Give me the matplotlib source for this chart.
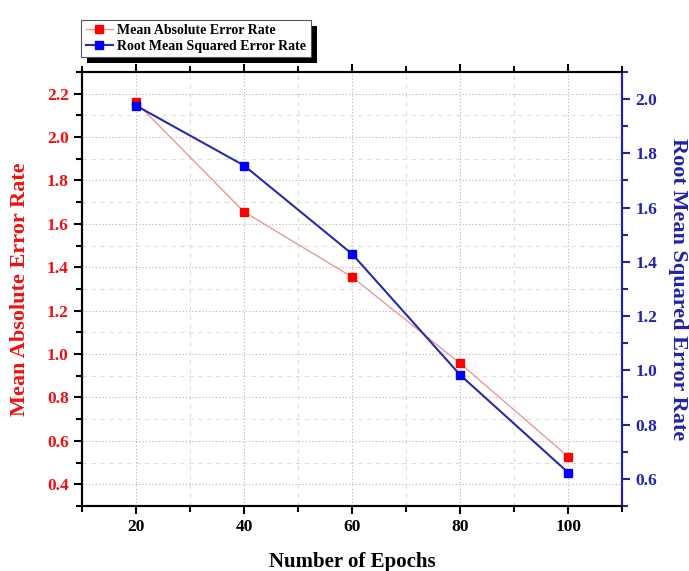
import numpy as np
import matplotlib
matplotlib.use("Agg")
from matplotlib import pyplot as plt
from matplotlib.patches import Rectangle
from matplotlib.ticker import MultipleLocator

plt.rcParams['font.family'] = ['Liberation Serif', 'DejaVu Serif']
plt.rcParams['font.weight'] = 'bold'

epochs = [20, 40, 60, 80, 100]
mae = [2.16, 1.655, 1.355, 0.957, 0.527]
rmse = [1.976, 1.755, 1.429, 0.983, 0.623]

fig = plt.figure(figsize=(6.89, 5.71), dpi=100)
ax = fig.add_axes([0.119, 0.114, 0.784, 0.760])
ax2 = ax.twinx()

l1, = ax.plot(epochs, mae, color="#e89a9a", lw=1.0, marker="s", ms=6,
              mfc="#ff0000", mec="#ff0000", label="Mean Absolute Error Rate", zorder=3)
l2, = ax2.plot(epochs, rmse, color="#2a2aa8", lw=1.5, marker="s", ms=6,
               mfc="#0000ff", mec="#0000ff", label="Root Mean Squared Error Rate", zorder=3)

ax.set_xlim(10, 110)
ax.set_xticks(epochs)
ax.xaxis.set_minor_locator(MultipleLocator(10))
ax.yaxis.set_major_locator(MultipleLocator(0.2))
ax.yaxis.set_minor_locator(MultipleLocator(0.1))
ax2.yaxis.set_major_locator(MultipleLocator(0.2))
ax2.yaxis.set_minor_locator(MultipleLocator(0.1))
ax.set_ylim(0.3, 2.3)
ax2.set_ylim(0.5, 2.1)
ax.yaxis.set_major_formatter("{x:.1f}")
ax2.yaxis.set_major_formatter("{x:.1f}")

# grid
ax.grid(True, which="major", ls=(0, (1, 2)), color="#d0a8b0", lw=0.8)
ax.grid(True, which="minor", ls=(0, (4, 4)), color="#cfe8cf", lw=0.8)

ax.tick_params(axis="x", which="both", direction="out", top=True, labelsize=12.5, width=1.5)
ax.tick_params(axis="x", which="major", length=6)
ax.tick_params(axis="x", which="minor", length=4)
ax.tick_params(axis="y", which="major", length=6, width=1.5, labelsize=12.5, labelcolor="#ee1111")
ax.tick_params(axis="y", which="minor", length=4, width=1.5)
ax2.tick_params(axis="y", which="major", length=6, width=1.5, labelsize=12.5,
                labelcolor="#2222aa", color="#2222aa")
ax2.tick_params(axis="y", which="minor", length=4, width=1.5, color="#2222aa")

for s in ax.spines.values():
    s.set_linewidth(1.5)
for s in ax2.spines.values():
    s.set_linewidth(1.5)
ax2.spines["right"].set_color("#2222aa")

ax.set_xlabel("Number of Epochs", fontsize=15, fontweight="bold", labelpad=12)
ax.set_ylabel("Mean Absolute Error Rate", fontsize=16, fontweight="bold", color="#ee1111", labelpad=12)
ax2.set_ylabel("Root Mean Squared Error Rate", fontsize=16, fontweight="bold", color="#2222aa",
               rotation=270, labelpad=22)

leg = fig.legend(handles=[l1, l2], loc="upper left", bbox_to_anchor=(0.108, 0.978),
                 fontsize=10, frameon=True, fancybox=False, framealpha=1,
                 edgecolor="#555555", borderpad=0.3, handlelength=2.0,
                 handletextpad=0.3, labelspacing=0.25)
leg.get_frame().set_linewidth(0.8)

fig.canvas.draw()
bb = leg.get_window_extent().transformed(fig.transFigure.inverted())
dx, dy = 6 / 689, 6 / 571
fig.patches.append(Rectangle((bb.x0 + dx, bb.y0 - dy), bb.width, bb.height,
                             transform=fig.transFigure, facecolor="black",
                             edgecolor="none", zorder=leg.get_zorder() - 0.5))

fig.savefig("out.png", dpi=100)
